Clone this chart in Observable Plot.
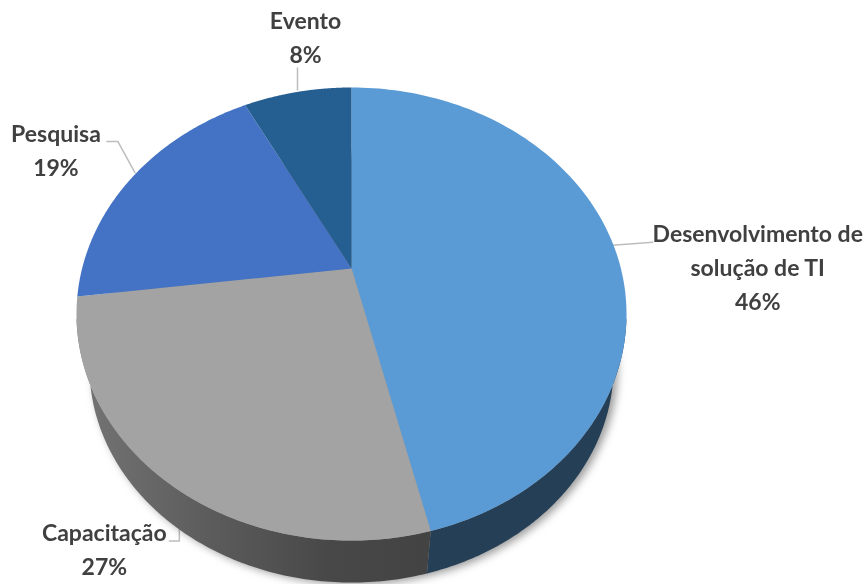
<!DOCTYPE html>
<html>
<head>
<meta charset="utf-8">
<script src="https://cdn.jsdelivr.net/npm/d3@7"></script>
<script src="https://cdn.jsdelivr.net/npm/@observablehq/plot@0.6"></script>
<style>html,body{margin:0;padding:0;background:#fff}svg{display:block}</style>
</head>
<body>
<div id="chart"></div>
<script>
const categories = ["Desenvolvimento de\nsolução de TI", "Capacitação", "Pesquisa", "Evento"];
const shares = [46.2, 26.8, 19.3, 7.7];
const topColors = ["#5b9bd5", "#a3a3a3", "#4472c4", "#255e91"];

// Tilted-disc geometry: a pie share is mapped to its perspective position on the disc.
const tilt = 0.201;
const topFace = {cx: 351, cy: 268, rx: 269.4, ry: 217.4};
const baseFace = {cx: 351, cy: 323, rx: 256.7, ry: 207};
const project = (f, frac, r = 1) => {
  const a = frac * 2 * Math.PI, u = r * Math.sin(a), v = r * Math.cos(a), w = 1 + tilt * v;
  return {x: f.cx + f.rx * u / w, y: f.cy - f.ry * v / w};
};
const rim = (f, a, b) => d3.range(0, 121).map(i => project(f, a + (b - a) * i / 120));

let acc = 0;
const slices = categories.map((name, i) => {
  const start = acc / 100; acc += shares[i]; const end = acc / 100;
  return {name, share: shares[i], start, end, mid: (start + end) / 2};
});

const faceRows = slices.flatMap(s => {
  const apex = project(topFace, 0, 0);
  return [apex, ...rim(topFace, s.start, s.end), apex].map(p => ({...p, name: s.name}));
});
// only the front part of the rim shows a side wall
const sideRows = s => {
  const a = Math.max(s.start, 0.285), b = Math.min(s.end, 0.715);
  return [...rim(baseFace, a, b), ...rim(topFace, a, b).reverse()];
};
const baseOutline = rim(baseFace, 0, 1);

// label placement relative to each slice's mid-rim point
const labelOffset = [[145, 22], [-64, 64], [-77, -28], [8, -57]];
const leaderBends = [
  [[0, 2], [40, -1]],
  [[11, 41], [11, 58], [1, 58]],
  [[2, -4], [-15, -35], [-26, -35]],
  [[0, -2], [0, -24]]
];

const gradient = () => {
  const svg = d3.create("svg:g");
  const g = svg.append("defs").append("linearGradient")
    .attr("id", "sideGray").attr("gradientUnits", "userSpaceOnUse")
    .attr("x1", 90).attr("y1", 0).attr("x2", 430).attr("y2", 0);
  [[0, "#727272"], [0.35, "#5c5c5c"], [0.7, "#484848"], [1, "#434343"]]
    .forEach(([o, c]) => g.append("stop").attr("offset", o).attr("stop-color", c));
  return svg.node();
};

const chart = Plot.plot({
  width: 866, height: 584, margin: 0,
  style: {background: "#fff"},
  x: {domain: [0, 866], range: [0, 866], axis: null},
  y: {domain: [0, 584], range: [0, 584], axis: null},
  color: {domain: categories, range: topColors},
  marks: [
    gradient,
    ...slices.map((s, i) => {
      const m = project(topFace, s.mid);
      return Plot.line(leaderBends[i].map(([dx, dy]) => ({x: m.x + dx, y: m.y + dy})),
        {x: "x", y: "y", stroke: "#bdbdbd", strokeWidth: 1.5, curve: "linear"});
    }),
    Plot.line(baseOutline, {x: "x", y: "y", fill: "#555", stroke: "none", fillOpacity: 0.6,
      dx: 4, dy: 2, imageFilter: "blur(4px)"}),
    Plot.line(sideRows(slices[0]), {x: "x", y: "y", fill: "#253f57", stroke: "none", imageFilter: "blur(0.4px)"}),
    Plot.line(sideRows(slices[1]), {x: "x", y: "y", fill: "url(#sideGray)", stroke: "none", imageFilter: "blur(0.4px)"}),
    Plot.line(faceRows, {x: "x", y: "y", z: "name", fill: "name", stroke: "none", imageFilter: "blur(0.4px)"}),
    ...slices.map((s, i) => {
      const m = project(topFace, s.mid);
      return Plot.text([{...m, label: `${s.name}\n${Math.round(s.share)}%`}], {
        x: "x", y: "y", text: "label",
        dx: labelOffset[i][0], dy: labelOffset[i][1],
        lineHeight: 1.47, fontSize: 23, fontWeight: 700,
        fontFamily: "Lato, 'Open Sans', sans-serif",
        fill: "#404040", textAnchor: "middle", lineAnchor: "middle",
        imageFilter: "blur(0.4px)"
      });
    })
  ]
});
document.getElementById("chart").append(chart);
</script>
</body>
</html>
